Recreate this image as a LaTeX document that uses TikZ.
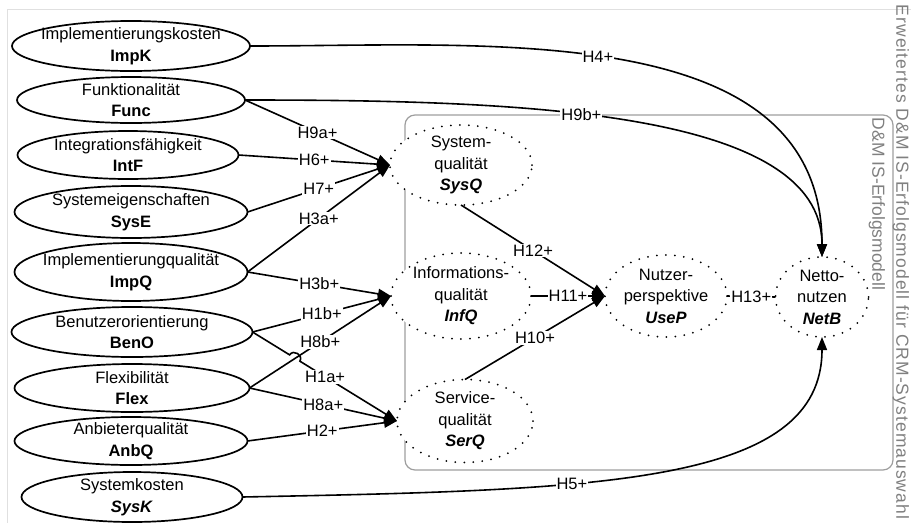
\documentclass[tikz,border=0pt]{standalone}
\usepackage{fontspec}
\setmainfont{Liberation Sans}
\usetikzlibrary{shapes.geometric, arrows.meta, calc}

\definecolor{framegray}{gray}{0.88}
\definecolor{boxgray}{gray}{0.62}
\definecolor{notegray}{gray}{0.5}

\tikzset{
	src/.style={draw, ellipse, line width=1.7pt, inner sep=0pt, outer sep=0pt, minimum height=50pt},
	tgt/.style={draw, ellipse, fill=white, line width=2pt, dash pattern=on 0pt off 9pt, line cap=round, inner sep=0pt, outer sep=0pt, minimum height=82pt},
	txt/.style={align=center, inner sep=0pt},
	lbl/.style={fill=white, inner sep=1pt},
	note/.style={notegray, rotate=-90, inner sep=0pt, font=\fontsize{17.5}{21.5}\selectfont},
	edge/.style={line width=1.6pt, ->},
}

\begin{document}
\begin{tikzpicture}[x=1pt, y=-1pt, font=\fontsize{16.5}{21.5}\selectfont, >={Triangle[length=13pt,width=10pt]}]
	\useasboundingbox (0,0) rectangle (911,523);

	% frame and model box
	\draw[framegray, line width=1pt] (7,523) -- (7,9) -- (911,9);
	\draw[boxgray, line width=1.2pt, rounded corners=10pt] (405,115) rectangle (893,470);
	\node[note](dm) at (877,204) {D\&M IS-Erfolgsmodell};
	\node[note](title) at (901,262) {\addfontfeature{LetterSpace=6}Erweitertes D\&M IS-Erfolgsmodell für CRM-Systemauswahl};

	% factors
	\node[src, minimum width=238pt, label={[txt]center:Implementierungskosten\\\textbf{ImpK}}](impk) at (131,46) {};
	\node[src, minimum width=228pt, minimum height=46pt, label={[txt]center:Funktionalität\\\textbf{Func}}](func) at (131,100) {};
	\node[src, minimum width=221pt, minimum height=48pt, label={[txt]center:Integrationsfähigkeit\\\textbf{IntF}}](intf) at (128,155) {};
	\node[src, minimum width=233pt, minimum height=52pt, label={[txt]center:Systemeigenschaften\\\textbf{SysE}}](syse) at (131,212) {};
	\node[src, minimum width=233pt, minimum height=58pt, label={[txt]center:Implementierungqualität\\\textbf{ImpQ}}](impq) at (131,272) {};
	\node[src, minimum width=241pt, label={[txt]center:Benutzerorientierung\\\textbf{BenO}}](beno) at (132,332) {};
	\node[src, minimum width=235pt, minimum height=48pt, label={[txt]center:Flexibilität\\\textbf{Flex}}](flex) at (132,388) {};
	\node[src, minimum width=233pt, minimum height=48pt, label={[txt]center:Anbieterqualität\\\textbf{AnbQ}}](anbq) at (131,441) {};
	\node[src, minimum width=221pt, label={[txt]center:Systemkosten\\\textbf{\textit{SysK}}}](sysk) at (132,497) {};

	% D&M constructs
	\node[tgt, minimum width=142pt, minimum height=80pt, label={[txt]center:System-\\qualität\\\textbf{\textit{SysQ}}}](sysq) at (461,165) {};
	\node[tgt, minimum width=140pt, minimum height=86pt, label={[txt]center:Informations-\\qualität\\\textbf{\textit{InfQ}}}](infq) at (461,296) {};
	\node[tgt, minimum width=136pt, minimum height=83pt, label={[txt]center:Service-\\qualität\\\textbf{\textit{SerQ}}}](serq) at (465,421) {};
	\node[tgt, minimum width=122pt, minimum height=82pt, label={[txt]center:Nutzer-\\perspektive\\\textbf{\textit{UseP}}}](usep) at (666,296) {};
	\node[tgt, minimum width=93pt, minimum height=80pt, label={[txt]center:Netto-\\nutzen\\\textbf{\textit{NetB}}}](netb) at (822,297) {};

	% hypotheses
	\draw[edge](impk.east) .. controls (489,46) and (822,18) .. (netb.north) node[lbl, pos=.46] {H4+};
	\draw[edge](func.east) .. controls (520,100) and (822,110) .. (netb.north) node[lbl, pos=.42] {H9b+};
	\draw[edge](sysk.east) .. controls (600,490) and (822,485) .. (netb.south) node[lbl, pos=.36] {H5+};

	\draw[edge](func.east) -- (sysq.west) node[lbl, midway] {H9a+};
	\draw[edge](intf.east) -- (sysq.west) node[lbl, midway] {H6+};
	\draw[edge](syse.east) -- (sysq.west) node[lbl, midway] {H7+};
	\draw[edge](impq.east) -- (sysq.west) node[lbl, midway] {H3a+};
	\draw[edge](impq.east) -- (infq.west) node[lbl, midway] {H3b+};
	\draw[edge](beno.east) -- (infq.west) node[lbl, midway] {H1b+};
	\draw[edge](flex.east) -- (infq.west) node[lbl, midway] {H8b+};
	\draw[edge](beno.east) -- ($(beno.east)!.257!(serq.west)$) to[bend left=90, looseness=1.5] ($(beno.east)!.328!(serq.west)$) -- node[lbl, pos=.26] {H1a+} (serq.west);
	\draw[edge](flex.east) -- (serq.west) node[lbl, midway] {H8a+};
	\draw[edge](anbq.east) -- (serq.west) node[lbl, midway] {H2+};

	\draw[edge](sysq.south) -- (usep.west) node[lbl, midway] {H12+};
	\draw[edge](infq.east) -- (usep.west) node[lbl, midway] {H11+};
	\draw[edge](serq.north) -- (usep.west) node[lbl, midway] {H10+};
	\draw[line width=1.6pt](usep.east) -- (netb.west) node[lbl, midway] {H13+};
\end{tikzpicture}
\end{document}
